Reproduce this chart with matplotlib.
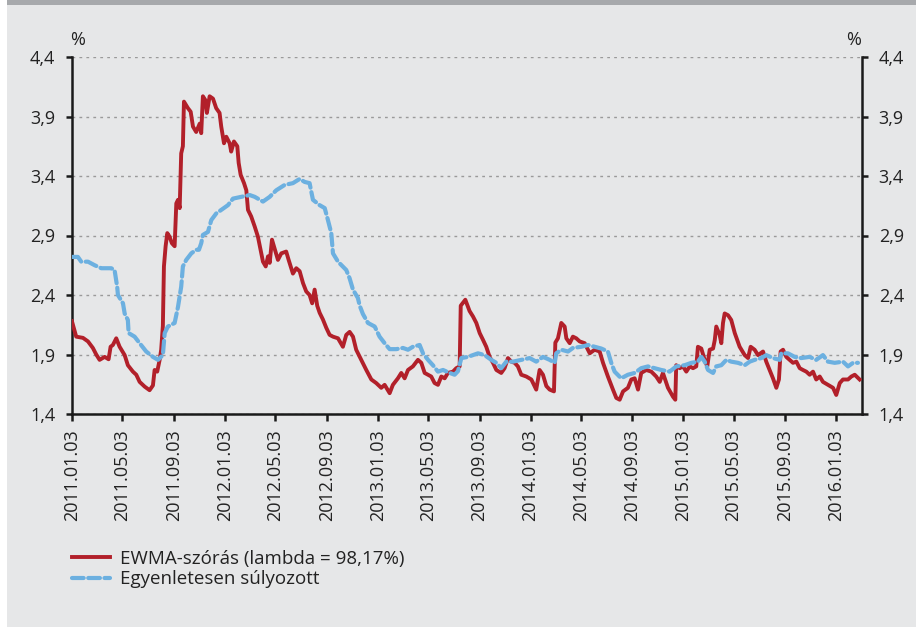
import datetime
import matplotlib
matplotlib.use("Agg")
import matplotlib.pyplot as plt
import matplotlib.dates as mdates
from matplotlib.patches import Rectangle
from matplotlib.ticker import FixedLocator, FuncFormatter

plt.rcParams['font.family'] = ['Open Sans', 'DejaVu Sans']

# ---- data (time as fractional year, values in %) ----
ewma_t = [2011.005, 2011.033, 2011.077, 2011.110, 2011.142, 2011.164, 2011.186, 2011.219, 2011.245, 2011.258,
          2011.273, 2011.295, 2011.317, 2011.350, 2011.371, 2011.404, 2011.426, 2011.448, 2011.481, 2011.513,
          2011.535, 2011.546, 2011.563, 2011.579, 2011.589, 2011.600, 2011.607, 2011.618, 2011.629, 2011.644,
          2011.659, 2011.677, 2011.688, 2011.699, 2011.710, 2011.720, 2011.731, 2011.738, 2011.764, 2011.782,
          2011.797, 2011.818, 2011.841, 2011.851, 2011.862, 2011.877, 2011.888, 2011.906, 2011.928, 2011.949,
          2011.971, 2011.982, 2012.000, 2012.015, 2012.037, 2012.047, 2012.065, 2012.087, 2012.096, 2012.109,
          2012.131, 2012.146, 2012.157, 2012.178, 2012.201, 2012.222, 2012.244, 2012.255, 2012.273, 2012.288,
          2012.299, 2012.314, 2012.331, 2012.353, 2012.375, 2012.407, 2012.423, 2012.451, 2012.473, 2012.495,
          2012.517, 2012.538, 2012.560, 2012.577, 2012.593, 2012.610, 2012.626, 2012.647, 2012.669, 2012.691,
          2012.713, 2012.746, 2012.778, 2012.800, 2012.822, 2012.844, 2012.865, 2012.898, 2012.931, 2012.964,
          2012.996, 2013.029, 2013.051, 2013.084, 2013.105, 2013.138, 2013.160, 2013.182, 2013.204, 2013.236,
          2013.269, 2013.291, 2013.313, 2013.335, 2013.356, 2013.378, 2013.400, 2013.422, 2013.444, 2013.465,
          2013.498, 2013.520, 2013.542, 2013.549, 2013.579, 2013.607, 2013.629, 2013.651, 2013.673, 2013.694,
          2013.716, 2013.738, 2013.760, 2013.782, 2013.814, 2013.836, 2013.858, 2013.880, 2013.902, 2013.923,
          2013.945, 2013.978, 2014.011, 2014.043, 2014.065, 2014.087, 2014.109, 2014.131, 2014.159, 2014.168,
          2014.185, 2014.207, 2014.229, 2014.240, 2014.262, 2014.283, 2014.305, 2014.327, 2014.360, 2014.393,
          2014.425, 2014.458, 2014.480, 2014.512, 2014.545, 2014.567, 2014.589, 2014.611, 2014.643, 2014.665,
          2014.687, 2014.709, 2014.730, 2014.763, 2014.796, 2014.828, 2014.851, 2014.872, 2014.905, 2014.938,
          2014.953, 2014.959, 2014.982, 2015.003, 2015.025, 2015.047, 2015.069, 2015.090, 2015.101, 2015.123,
          2015.145, 2015.162, 2015.178, 2015.200, 2015.211, 2015.221, 2015.243, 2015.254, 2015.265, 2015.276,
          2015.298, 2015.319, 2015.342, 2015.374, 2015.407, 2015.429, 2015.446, 2015.472, 2015.494, 2015.527,
          2015.548, 2015.570, 2015.592, 2015.614, 2015.631, 2015.642, 2015.658, 2015.679, 2015.701, 2015.723,
          2015.745, 2015.767, 2015.788, 2015.810, 2015.832, 2015.854, 2015.875, 2015.898, 2015.919, 2015.952,
          2015.985, 2016.006, 2016.029, 2016.050, 2016.083, 2016.105, 2016.127, 2016.159]
ewma_v = [2.18, 2.05, 2.04, 2.01, 1.955, 1.90, 1.855, 1.88, 1.86, 1.965,
          1.98, 2.036, 1.965, 1.895, 1.81, 1.756, 1.73, 1.67, 1.63, 1.60,
          1.64, 1.77, 1.756, 1.855, 1.94, 2.14, 2.64, 2.81, 2.92, 2.89,
          2.835, 2.81, 3.17, 3.20, 3.13, 3.59, 3.65, 4.025, 3.97, 3.94,
          3.815, 3.77, 3.84, 3.76, 4.07, 4.04, 3.93, 4.07, 4.05, 3.97,
          3.93, 3.815, 3.675, 3.73, 3.675, 3.605, 3.69, 3.65, 3.51, 3.41,
          3.34, 3.28, 3.115, 3.06, 2.975, 2.89, 2.75, 2.68, 2.64, 2.725,
          2.67, 2.865, 2.79, 2.695, 2.75, 2.765, 2.695, 2.58, 2.625, 2.60,
          2.50, 2.43, 2.40, 2.33, 2.445, 2.31, 2.25, 2.195, 2.125, 2.065,
          2.05, 2.036, 1.965, 2.065, 2.09, 2.05, 1.94, 1.855, 1.77, 1.69,
          1.66, 1.62, 1.645, 1.575, 1.645, 1.70, 1.745, 1.70, 1.77, 1.80,
          1.855, 1.83, 1.745, 1.73, 1.715, 1.66, 1.645, 1.715, 1.70, 1.745,
          1.756, 1.785, 1.80, 2.31, 2.36, 2.265, 2.22, 2.165, 2.08, 2.025,
          1.965, 1.88, 1.83, 1.77, 1.745, 1.785, 1.87, 1.84, 1.83, 1.80,
          1.73, 1.715, 1.69, 1.605, 1.77, 1.73, 1.635, 1.605, 1.59, 2.00,
          2.036, 2.165, 2.135, 2.036, 1.995, 2.05, 2.036, 2.01, 1.995, 1.91,
          1.94, 1.925, 1.83, 1.715, 1.605, 1.535, 1.52, 1.59, 1.62, 1.69,
          1.70, 1.605, 1.745, 1.77, 1.756, 1.715, 1.67, 1.745, 1.62, 1.545,
          1.52, 1.81, 1.785, 1.80, 1.756, 1.80, 1.785, 1.80, 1.965, 1.95,
          1.855, 1.80, 1.94, 1.95, 2.02, 2.135, 2.065, 1.995, 2.165, 2.245,
          2.23, 2.19, 2.08, 1.965, 1.895, 1.87, 1.965, 1.94, 1.895, 1.925,
          1.84, 1.77, 1.70, 1.62, 1.69, 1.925, 1.94, 1.88, 1.855, 1.83,
          1.84, 1.785, 1.77, 1.756, 1.73, 1.756, 1.69, 1.715, 1.67, 1.645,
          1.62, 1.56, 1.66, 1.69, 1.69, 1.715, 1.73, 1.69]

equal_t = [2011.005, 2011.044, 2011.066, 2011.110, 2011.154, 2011.197, 2011.262, 2011.284, 2011.301, 2011.306,
           2011.339, 2011.350, 2011.371, 2011.376, 2011.415, 2011.448, 2011.491, 2011.535, 2011.568, 2011.600,
           2011.612, 2011.633, 2011.677, 2011.699, 2011.720, 2011.731, 2011.753, 2011.786, 2011.818, 2011.836,
           2011.851, 2011.862, 2011.895, 2011.917, 2011.949, 2011.982, 2012.026, 2012.059, 2012.113, 2012.168,
           2012.201, 2012.255, 2012.299, 2012.342, 2012.397, 2012.451, 2012.495, 2012.528, 2012.560, 2012.582,
           2012.626, 2012.659, 2012.680, 2012.702, 2012.713, 2012.746, 2012.800, 2012.822, 2012.844, 2012.876,
           2012.888, 2012.909, 2012.942, 2012.986, 2013.018, 2013.051, 2013.084, 2013.127, 2013.171, 2013.204,
           2013.236, 2013.280, 2013.302, 2013.335, 2013.367, 2013.400, 2013.433, 2013.477, 2013.509, 2013.531,
           2013.553, 2013.596, 2013.662, 2013.705, 2013.749, 2013.782, 2013.814, 2013.847, 2013.891, 2013.945,
           2014.000, 2014.043, 2014.087, 2014.131, 2014.164, 2014.174, 2014.207, 2014.251, 2014.283, 2014.338,
           2014.382, 2014.425, 2014.469, 2014.512, 2014.534, 2014.556, 2014.599, 2014.643, 2014.687, 2014.730,
           2014.774, 2014.818, 2014.861, 2014.916, 2014.959, 2015.014, 2015.058, 2015.101, 2015.123, 2015.145,
           2015.167, 2015.200, 2015.221, 2015.254, 2015.287, 2015.319, 2015.363, 2015.407, 2015.440, 2015.472,
           2015.516, 2015.548, 2015.592, 2015.636, 2015.646, 2015.690, 2015.734, 2015.777, 2015.832, 2015.875,
           2015.919, 2015.952, 2015.996, 2016.050, 2016.083, 2016.116, 2016.148]
equal_v = [2.72, 2.72, 2.68, 2.68, 2.65, 2.625, 2.625, 2.61, 2.47, 2.40,
           2.33, 2.245, 2.19, 2.08, 2.05, 1.995, 1.925, 1.88, 1.855, 1.895,
           2.08, 2.135, 2.165, 2.30, 2.47, 2.64, 2.695, 2.75, 2.78, 2.78,
           2.835, 2.905, 2.93, 3.03, 3.085, 3.115, 3.155, 3.21, 3.225, 3.24,
           3.225, 3.185, 3.225, 3.28, 3.325, 3.34, 3.375, 3.35, 3.34, 3.20,
           3.155, 3.13, 3.03, 2.92, 2.75, 2.68, 2.61, 2.54, 2.445, 2.375,
           2.31, 2.24, 2.165, 2.135, 2.05, 1.995, 1.945, 1.945, 1.955, 1.94,
           1.965, 1.98, 1.91, 1.855, 1.81, 1.756, 1.77, 1.745, 1.73, 1.76,
           1.87, 1.88, 1.91, 1.895, 1.855, 1.83, 1.785, 1.84, 1.84, 1.855,
           1.87, 1.84, 1.88, 1.855, 1.83, 1.91, 1.94, 1.925, 1.955, 1.965,
           1.98, 1.965, 1.95, 1.925, 1.83, 1.756, 1.70, 1.73, 1.745, 1.785,
           1.80, 1.785, 1.77, 1.756, 1.80, 1.81, 1.83, 1.84, 1.88, 1.84,
           1.77, 1.745, 1.80, 1.81, 1.855, 1.84, 1.83, 1.81, 1.84, 1.855,
           1.87, 1.895, 1.87, 1.855, 1.91, 1.91, 1.88, 1.87, 1.88, 1.855,
           1.895, 1.84, 1.83, 1.84, 1.80, 1.83, 1.83]

series_labels = ["EWMA-szórás (lambda = 98,17%)", "Egyenletesen súlyozott"]
tick_dates = [datetime.datetime(y, m, 3) for y in range(2011, 2017) for m in (1, 5, 9)
              if datetime.datetime(y, m, 3) <= datetime.datetime(2016, 1, 3)]
y_ticks = [1.4, 1.9, 2.4, 2.9, 3.4, 3.9, 4.4]


def to_date(t):
    return datetime.datetime(2011, 1, 1) + datetime.timedelta(days=(t - 2011) * 365.25)


BG = '#e6e7e8'
RED = '#b2202a'
BLUE = '#6cb0e0'

fig = plt.figure(figsize=(9.16, 6.27), dpi=100, facecolor='white')
fig.patches.append(Rectangle((7 / 916, 0), 1, 1, transform=fig.transFigure, facecolor=BG,
                             edgecolor='none', zorder=-10))
fig.patches.append(Rectangle((7 / 916, 1 - 5 / 627), 1, 5 / 627, transform=fig.transFigure,
                             facecolor='#a7a9ac', edgecolor='none', zorder=-9))

ax = fig.add_axes([72 / 916, 1 - 414 / 627, (862 - 72) / 916, (414 - 57) / 627])
ax.set_facecolor('none')

l1, = ax.plot([to_date(t) for t in ewma_t], ewma_v, color=RED, lw=2.8, zorder=3,
              solid_joinstyle='round', label=series_labels[0])
l2, = ax.plot([to_date(t) for t in equal_t], equal_v, color=BLUE, lw=3.0, zorder=4,
              dashes=(2.8, 1.1), dash_capstyle='round', label=series_labels[1])

ax.set_xlim(datetime.datetime(2011, 1, 3), datetime.datetime(2016, 3, 5))
ax.set_ylim(1.4, 4.4)

ax.xaxis.set_major_locator(FixedLocator(mdates.date2num(tick_dates)))
ax.xaxis.set_major_formatter(FuncFormatter(lambda x, p: mdates.num2date(x).strftime('%Y.%m.%d')))
ax.yaxis.set_major_locator(FixedLocator(y_ticks))
ax.yaxis.set_major_formatter(FuncFormatter(lambda v, p: f"{v:.1f}".replace('.', ',')))

for s in ('left', 'right', 'bottom'):
    ax.spines[s].set_linewidth(1.8)
    ax.spines[s].set_color('#1a1a1a')
ax.spines['top'].set_visible(False)

ax.tick_params(axis='y', which='both', left=True, right=True, labelleft=True, labelright=True,
               direction='out', length=4, width=1.8, color='#1a1a1a', labelsize=13,
               labelcolor='#222222', pad=8)
ax.tick_params(axis='x', direction='out', length=5, width=1.8, color='#1a1a1a', labelsize=13,
               labelcolor='#222222', pad=6, labelrotation=90)

ax.grid(axis='y', linestyle=(0, (2, 3)), color='#9a9a9a', linewidth=1.0, zorder=1)
ax.set_axisbelow(True)

fig.text(78 / 916, 1 - 40 / 627, '%', ha='center', va='center', fontsize=13, color='#222222')
fig.text(854 / 916, 1 - 40 / 627, '%', ha='center', va='center', fontsize=13, color='#222222')

leg = fig.legend(handles=[l1, l2], loc='upper left', bbox_to_anchor=(72 / 916, 1 - 550 / 627),
                 frameon=False, fontsize=13.5, handlelength=2.05, handletextpad=0.5,
                 labelspacing=0.12, borderaxespad=0, borderpad=0)
for t in leg.get_texts():
    t.set_color('#222222')

fig.savefig('out.png', dpi=100, facecolor=fig.get_facecolor())
